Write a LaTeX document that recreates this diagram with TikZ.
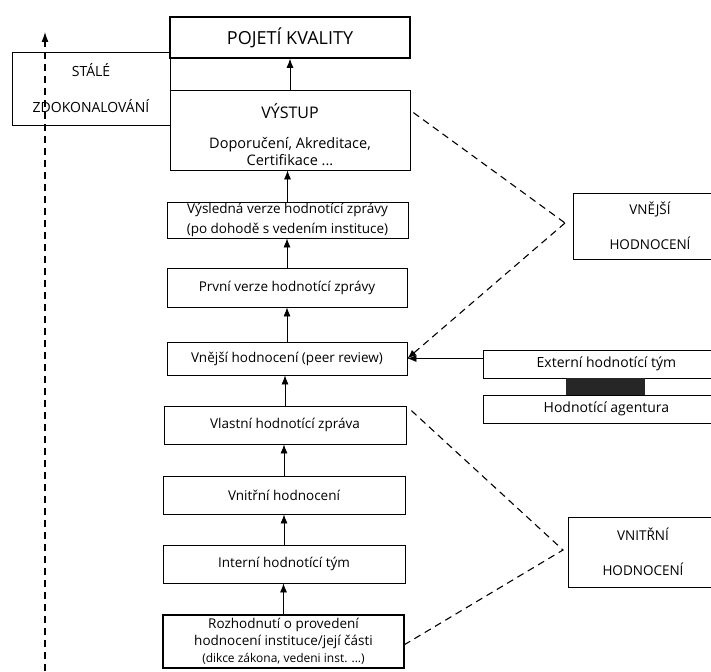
\documentclass[tikz,border=0pt]{standalone}
\usepackage{fontspec}
\setmainfont{Open Sans}
\usetikzlibrary{arrows.meta,positioning}

\begin{document}
\begin{tikzpicture}[x=1pt,y=-1pt,
		box/.style={draw,fill=white,inner sep=0pt,align=center,line width=0.8pt,font=\fontsize{13.5}{19}\selectfont},
		hlavni/.style={box,line width=1.6pt},
		oblast/.style={box,font=\fontsize{13.5}{35}\selectfont},
		sipka/.style={-{Latex[length=9pt,width=7pt]},line width=0.8pt},
		carkovana/.style={dash pattern=on 7pt off 5pt,line width=1.1pt}]
	\clip (0,0) rectangle (711,671);
	\fill[white] (0,0) rectangle (711,671);
	% leva zpetna vazba
	\coordinate (zdola) at (45,671);
	\coordinate (nahore) at (45,32);
	\node[oblast,minimum width=158pt,minimum height=73pt,font=\fontsize{14}{36}\selectfont] (stale) at (91,88.5) {STÁLÉ\\ZDOKONALOVÁNÍ};
	\draw[carkovana,-{Latex[length=10pt,width=7pt]}] (zdola) -- (nahore);
	% hlavni sloupec
	\node[hlavni,minimum width=240pt,minimum height=41pt,font=\fontsize{18}{20}\selectfont] (pojeti) at (290,37.5) {POJETÍ KVALITY};
	\node[box,minimum width=240pt,minimum height=80pt,font=\fontsize{14.5}{17}\selectfont] (vystup) at (290,130) {{\fontsize{16}{17}\selectfont\rule{0pt}{24pt}VÝSTUP}\\[13pt]Doporučení, Akreditace,\\Certifikace ...};
	\node[box,minimum width=241pt,minimum height=36pt,font=\fontsize{13.5}{20}\selectfont] (vysledna) at (287.5,220) {Výsledná verze hodnotící zprávy\\(po dohodě s vedením instituce)};
	\node[box,minimum width=240pt,minimum height=39pt] (prvni) at (287,287.5) {První verze hodnotící zprávy};
	\node[box,minimum width=240pt,minimum height=33pt] (vnejsi) at (287,358.5) {Vnější hodnocení (peer review)};
	\node[box,minimum width=242pt,minimum height=38pt] (vlastni) at (285,425) {Vlastní hodnotící zpráva};
	\node[box,minimum width=242pt,minimum height=38pt] (vnitrni) at (284,495) {Vnitřní hodnocení};
	\node[box,minimum width=242pt,minimum height=38pt] (interni) at (284,564) {Interní hodnotící tým};
	\node[hlavni,line width=1.4pt,minimum width=241pt,minimum height=53pt,font=\fontsize{13.5}{17}\selectfont] (rozhodnuti) at (283.5,641.5) {Rozhodnutí o provedení\\hodnocení instituce/její části\\{\fontsize{12}{14}\selectfont (dikce zákona, vedeni inst. ...)}};
	\draw[sipka] (vystup.north) -- (pojeti.south);
	\draw[sipka] (vysledna.north) -- (vysledna.north |- vystup.south);
	\draw[sipka] (prvni.north) -- (prvni.north |- vysledna.south);
	\draw[sipka] (vnejsi.north) -- (vnejsi.north |- prvni.south);
	\draw[sipka] (vlastni.north) -- (vlastni.north |- vnejsi.south);
	\draw[sipka] (vnitrni.north) -- (vnitrni.north |- vlastni.south);
	\draw[sipka] (interni.north) -- (interni.north |- vnitrni.south);
	\draw[sipka] (rozhodnuti.north) -- (rozhodnuti.north |- interni.south);
	% prava strana
	\node[oblast,minimum width=154pt,minimum height=66pt] (vnejsiH) at (650,226) {VNĚJŠÍ\\HODNOCENÍ};
	\node[oblast,minimum width=150pt,minimum height=70pt] (vnitrniH) at (643,552) {VNITŘNÍ\\HODNOCENÍ};
	\node[box,anchor=west,minimum width=246pt,minimum height=28pt,font=\fontsize{14}{19}\selectfont] (externi) at (483,364) {Externí hodnotící tým};
	\node[box,anchor=west,minimum width=246pt,minimum height=28pt,font=\fontsize{14}{19}\selectfont] (agentura) at (483,409) {Hodnotící agentura};
	\fill[black!85] (566,378) rectangle (645,395);
	\draw[sipka] (externi.west |- vnejsi.east) -- (vnejsi.east);
	% carkovane spojnice
	\coordinate (vrcholA) at (565,223);
	\coordinate (vrcholB) at (563,550);
	\draw[carkovana] ([xshift=3pt,yshift=-23pt]vystup.north east) -- (vrcholA);
	\draw[carkovana,-{Latex[length=9pt,width=7pt]}] (vrcholA) -- (vnejsi.east);
	\draw[carkovana] ([xshift=5pt,yshift=-5pt]vlastni.north east) -- (vrcholB) -- ([yshift=-3pt]rozhodnuti.east);
\end{tikzpicture}
\end{document}
